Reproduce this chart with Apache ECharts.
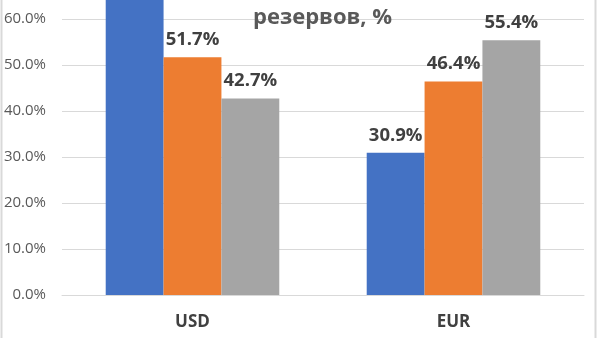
<!DOCTYPE html>
<html><head><meta charset="utf-8">
<script src="https://cdn.jsdelivr.net/npm/echarts@6/dist/echarts.min.js"></script>
<style>html,body{margin:0;padding:0;background:#fff}#c{width:600px;height:338px}</style>
</head><body><div id="c"></div>
<script>
const categories = ['USD', 'EUR'];
const series1 = [71.5, 30.9];
const series2 = [51.7, 46.4];
const series3 = [42.7, 55.4];
const titleText = 'резервов, %';
const colors = ['#4472C4', '#ED7D31', '#A5A5A5'];

const chart = echarts.init(document.getElementById('c'));
const lbl = {show: true, position: 'top', distance: 8, color: '#404040', fontSize: 18.5, fontWeight: 'bold',
  fontFamily: 'Open Sans', formatter: p => p.value.toFixed(1) + '%'};
function mk(d, i) {
  return {type: 'bar', data: d, barGap: '0%', barCategoryGap: '33.5%',
    itemStyle: {color: colors[i]}, label: lbl};
}
chart.setOption({
  animation: false,
  title: {text: titleText, left: 248, top: 2,
    textStyle: {fontSize: 22, fontWeight: 'bold', color: '#595959', fontFamily: 'Open Sans'}},
  graphic: [{type: 'rect', shape: {x: 1.5, y: -2, width: 594, height: 345}, silent: true,
    style: {fill: 'none', stroke: '#d9d9d9', lineWidth: 2}}],
  grid: {left: 62, right: 16, top: -27, bottom: 43, containLabel: false, outerBoundsMode: 'none'},
  xAxis: {type: 'category', data: categories,
    axisLine: {show: true, lineStyle: {color: '#d9d9d9'}}, axisTick: {show: false},
    axisLabel: {color: '#404040', fontSize: 17, fontWeight: 'bold', fontFamily: 'Open Sans', margin: 19}},
  yAxis: {type: 'value', min: 0, max: 70, interval: 10,
    axisLine: {show: false}, axisTick: {show: false},
    splitLine: {lineStyle: {color: '#d9d9d9', width: 1}},
    axisLabel: {color: '#595959', fontSize: 15, fontFamily: 'Open Sans', margin: 16,
      formatter: v => v.toFixed(1) + '%'}},
  series: [mk(series1, 0), mk(series2, 1), mk(series3, 2)]
});
</script></body></html>
